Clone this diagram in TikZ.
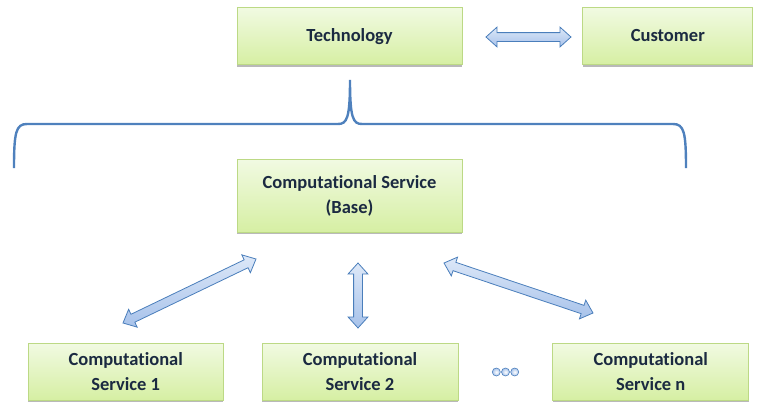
\documentclass[tikz,border=0pt]{standalone}
\usepackage{fontspec}
\setmainfont{Carlito}[Ligatures={NoCommon}]
\usetikzlibrary{positioning, shapes.arrows, shadows, calc}
\usepackage{xcolor}

\definecolor{boxtop}{HTML}{F1FAE2}
\definecolor{boxbot}{HTML}{D6EFA3}
\definecolor{boxline}{HTML}{BCD985}
\definecolor{textnavy}{HTML}{1B2A41}
\definecolor{arrtop}{HTML}{DDE8F8}
\definecolor{arrbot}{HTML}{A7C2EA}
\definecolor{arrline}{HTML}{4A7EBB}
\definecolor{braceblue}{HTML}{4F81BD}

\tikzset{
    svcbox/.style={draw=boxline, top color=boxtop, bottom color=boxbot, line width=0.8pt,
        text=textnavy, font=\bfseries\fontsize{18.5}{25}\selectfont, align=center,
        minimum height=57pt, general shadow={fill=gray!55, shadow yshift=-2pt}},
    oneline/.style={text height=13pt, text depth=3pt},
    twoway/.style={double arrow, draw=arrline, top color=arrtop, bottom color=arrbot,
        line width=0.8pt, inner xsep=0pt, inner ysep=4pt,
        double arrow head extend=5.5pt, double arrow tip angle=84},
    dotball/.style={circle, draw=arrline, line width=0.6pt, inner color=white,
        outer color=arrbot, minimum size=8pt, inner sep=0pt},
    brace line/.style={draw=braceblue, line width=2.4pt}
}

% block arrow between two named coordinates
\newcommand{\twowayarrow}[2]{%
    \path let \p1=($(#2)-(#1)$), \n1={veclen(\x1,\y1)}, \n2={atan2(\y1,\x1)} in
        node[twoway, minimum height=\n1, rotate=\n2] at ($(#1)!0.5!(#2)$) {};%
}

\begin{document}
\begin{tikzpicture}[x=1pt, y=-1pt]
\useasboundingbox (0,0) rectangle (763,402);

\node[svcbox, oneline, minimum width=225pt] (tech) at (349.5,36) {Technology};
\node[svcbox, oneline, minimum width=170pt, right=120pt of tech] (cust) {Customer};
\node[svcbox, minimum width=225pt, minimum height=73pt, below=94pt of tech] (base) {Computational Service\\(Base)};

\node[svcbox, minimum width=196pt] (srv2) at (360,371.5) {Computational\\Service 2};
\node[svcbox, minimum width=195pt, left=38pt of srv2] (srv1) {Computational\\Service 1};
\node[svcbox, minimum width=196pt, right=94pt of srv2] (srvn) {Computational\\Service n};

\node[dotball] (dot2) at (505.5,372) {};
\node[dotball, left=0.6pt of dot2] (dot1) {};
\node[dotball, right=0.6pt of dot2] (dot3) {};

% brace under Technology
\coordinate (tip) at ($(tech.south)+(0.5,15)$);
\draw[brace line] (14,168) .. controls (14,132) and (16,124) .. (27,124) -- (338,124)
    .. controls (347,124) and (350,118) .. (tip)
    .. controls (350,118) and (353,124) .. (362,124) -- (673,124)
    .. controls (684,124) and (686,132) .. (686,168);

% arrow ends
\coordinate (tc1) at (486,37);
\coordinate (tc2) at (571,37);
\coordinate (b1) at (256,259);
\coordinate (s1) at (123,323);
\coordinate (b2) at (358,263);
\coordinate (s2) at (358,328);
\coordinate (b3) at (444,263);
\coordinate (s3) at (593,313);

\twowayarrow{tc1}{tc2}
\twowayarrow{s1}{b1}
\twowayarrow{b2}{s2}
\twowayarrow{b3}{s3}
\end{tikzpicture}
\end{document}
